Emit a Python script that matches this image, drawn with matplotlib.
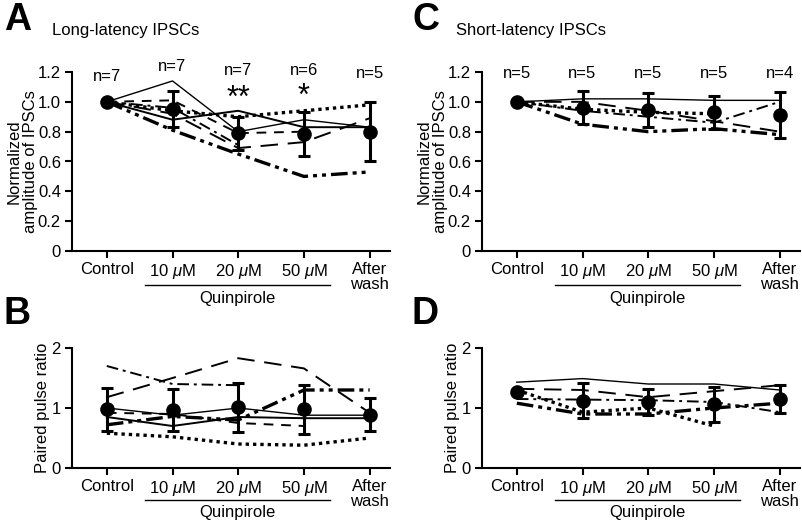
import numpy as np
import matplotlib
matplotlib.use("Agg")
import matplotlib.pyplot as plt

plt.rcParams['font.family'] = ['Liberation Sans', 'DejaVu Sans']
plt.rcParams['mathtext.fontset'] = 'custom'
plt.rcParams['mathtext.it'] = 'Liberation Sans:italic'
plt.rcParams['mathtext.rm'] = 'Liberation Sans'

nan = np.nan
conditions = ['Control', r'10 $\mu$M', r'20 $\mu$M', r'50 $\mu$M', 'After\nwash']

# Panel A: long-latency IPSC amplitude (individual cells)
A_solid1 = [1.0, 1.14, 0.80, 0.88, 0.83]
A_solid2 = [1.0, 0.88, 0.94, 0.83, 0.83]
A_dotted = [1.0, 0.94, 0.90, 0.94, 0.98]
A_dash = [1.0, 1.01, 0.79, 0.80, nan]
A_longdash = [1.0, 0.92, 0.69, 0.73, 0.89]
A_dashdot = [1.0, 0.96, 0.71, nan, nan]
A_dashdotdot = [1.0, 0.81, 0.65, 0.50, 0.53]
A_mean = [1.0, 0.95, 0.79, 0.785, 0.80]
A_err = [0.0, 0.12, 0.11, 0.145, 0.20]
A_n = ['n=7', 'n=7', 'n=7', 'n=6', 'n=5']
A_n_y = [1.17, 1.24, 1.21, 1.21, 1.19]
A_sig = ['', '', '**', '*', '']

# Panel C: short-latency IPSC amplitude
C_solid = [1.0, 1.02, 1.02, 1.01, 1.01]
C_longdash = [1.0, 1.0, 0.94, 0.87, 0.80]
C_dotted = [1.0, 0.95, 0.93, 0.92, nan]
C_dashdot = [1.0, 0.94, 0.90, 0.86, 1.0]
C_dashdotdot = [1.0, 0.85, 0.80, 0.82, 0.78]
C_mean = [1.0, 0.96, 0.945, 0.93, 0.91]
C_err = [0.0, 0.11, 0.115, 0.11, 0.155]
C_n = ['n=5', 'n=5', 'n=5', 'n=5', 'n=4']
C_n_y = [1.19, 1.19, 1.19, 1.19, 1.19]

# Panel B: paired pulse ratio (long-latency)
B_solid1 = [1.0, 0.88, 1.0, 0.88, 0.88]
B_solid2 = [0.85, 0.70, 0.85, 0.83, 0.83]
B_dotted = [0.58, 0.52, 0.40, 0.38, 0.50]
B_dash = [0.92, 0.90, 0.75, 0.70, nan]
B_longdash = [1.18, 1.50, 1.83, 1.66, 0.92]
B_dashdot = [1.70, 1.40, 1.38, nan, nan]
B_dashdotdot = [0.72, 0.86, 0.80, 1.30, 1.30]
B_mean = [0.98, 0.96, 1.01, 0.98, 0.89]
B_err = [0.36, 0.35, 0.41, 0.41, 0.28]

# Panel D: paired pulse ratio (short-latency)
D_solid = [1.43, 1.49, 1.40, 1.40, 1.30]
D_longdash = [1.32, 1.30, 1.18, 1.28, 1.38]
D_dotted = [1.30, 0.93, 1.0, 0.70, nan]
D_dashdot = [1.15, 1.14, 1.13, 1.10, 0.93]
D_dashdotdot = [1.08, 0.90, 0.90, 1.0, 1.08]
D_mean = [1.26, 1.12, 1.10, 1.06, 1.15]
D_err = [0.0, 0.29, 0.22, 0.29, 0.23]

styles = {
    'solid1': dict(ls='-', lw=1.0),
    'solid2': dict(ls='-', lw=1.4),
    'dotted': dict(ls=(0, (1, 1.2)), lw=2.4),
    'dash': dict(ls=(0, (5, 4)), lw=1.4),
    'longdash': dict(ls=(0, (9, 5)), lw=1.4),
    'dashdot': dict(ls=(0, (6, 2.5, 1.5, 2.5)), lw=1.4),
    'dashdotdot': dict(ls=(0, (5, 1.5, 1.2, 1.5, 1.2, 1.5)), lw=2.4),
}

x = np.arange(5)

fig = plt.figure(figsize=(8.02, 5.23), dpi=100)
W, H = 802, 523

def make_ax(l, r, top, bot):
    return fig.add_axes([l / W, 1 - bot / H, (r - l) / W, (bot - top) / H])

axA = make_ax(72, 390, 72, 251)
axC = make_ax(482, 800, 72, 251)
axB = make_ax(72, 390, 348, 468)
axD = make_ax(482, 800, 348, 468)

def style_ax(ax, ylim, yticks, yticklabels):
    ax.set_xlim(-0.53, 4.31)
    ax.set_ylim(*ylim)
    for s in ['top', 'right']:
        ax.spines[s].set_visible(False)
    for s in ['left', 'bottom']:
        ax.spines[s].set_linewidth(1.5)
    ax.set_xticks(x)
    ax.set_xticklabels(conditions, fontsize=12, linespacing=1.0)
    ax.set_yticks(yticks)
    ax.set_yticklabels(yticklabels, fontsize=12)
    ax.tick_params(axis='both', length=5, width=1.5, pad=3)

def draw_lines(ax, series):
    for key, vals in series:
        ax.plot(x, vals, color='black', clip_on=False, **styles[key])

def draw_mean(ax, mean, err):
    ax.errorbar(x, mean, yerr=err, fmt='o', color='black', ms=9.5,
                elinewidth=2.2, capsize=4, capthick=2.2, zorder=5, clip_on=False)

def quinpirole(ax, yline, ytext):
    tr = ax.get_xaxis_transform()
    ax.plot([0.58, 3.40], [yline, yline], color='black', lw=1.0,
            transform=tr, clip_on=False)
    ax.text(1.99, ytext, 'Quinpirole', transform=tr, ha='center', va='center',
            fontsize=12)

# Panel A
style_ax(axA, (0, 1.2), [0, 0.2, 0.4, 0.6, 0.8, 1.0, 1.2],
         ['0', '0.2', '0.4', '0.6', '0.8', '1.0', '1.2'])
draw_lines(axA, [('solid1', A_solid1), ('solid2', A_solid2), ('dotted', A_dotted),
                 ('dash', A_dash), ('longdash', A_longdash), ('dashdot', A_dashdot),
                 ('dashdotdot', A_dashdotdot)])
draw_mean(axA, A_mean, A_err)
axA.set_ylabel('Normalized\namplitude of IPSCs', fontsize=12, linespacing=1.1, labelpad=0)
for xi, t, yy in zip(x, A_n, A_n_y):
    axA.text(xi, yy, t, ha='center', va='center', fontsize=12, clip_on=False)
for xi, s, yy in zip(x, A_sig, [0, 0, 1.02, 1.035, 0]):
    if s:
        axA.text(xi, yy, s, ha='center', va='center', fontsize=22, clip_on=False)
quinpirole(axA, -0.19, -0.265)

# Panel C
style_ax(axC, (0, 1.2), [0, 0.2, 0.4, 0.6, 0.8, 1.0, 1.2],
         ['0', '0.2', '0.4', '0.6', '0.8', '1.0', '1.2'])
draw_lines(axC, [('solid1', C_solid), ('longdash', C_longdash), ('dotted', C_dotted),
                 ('dashdot', C_dashdot), ('dashdotdot', C_dashdotdot)])
draw_mean(axC, C_mean, C_err)
axC.set_ylabel('Normalized\namplitude of IPSCs', fontsize=12, linespacing=1.1, labelpad=0)
for xi, t, yy in zip(x, C_n, C_n_y):
    axC.text(xi, yy, t, ha='center', va='center', fontsize=12, clip_on=False)
quinpirole(axC, -0.19, -0.265)

# Panel B
style_ax(axB, (0, 2), [0, 1, 2], ['0', '1', '2'])
draw_lines(axB, [('solid1', B_solid1), ('solid2', B_solid2), ('dotted', B_dotted),
                 ('dash', B_dash), ('longdash', B_longdash), ('dashdot', B_dashdot),
                 ('dashdotdot', B_dashdotdot)])
draw_mean(axB, B_mean, B_err)
axB.set_ylabel('Paired pulse ratio', fontsize=12, labelpad=1)
quinpirole(axB, -0.267, -0.375)

# Panel D
style_ax(axD, (0, 2), [0, 1, 2], ['0', '1', '2'])
draw_lines(axD, [('solid1', D_solid), ('longdash', D_longdash), ('dotted', D_dotted),
                 ('dashdot', D_dashdot), ('dashdotdot', D_dashdotdot)])
draw_mean(axD, D_mean, D_err)
axD.set_ylabel('Paired pulse ratio', fontsize=12, labelpad=1)
quinpirole(axD, -0.267, -0.375)

# Panel letters and titles
fig.text(4 / W, 1 - 20 / H, 'A', fontsize=27, fontweight='bold', va='center', ha='left')
fig.text(52 / W, 1 - 30 / H, 'Long-latency IPSCs', fontsize=12, va='center', ha='left')
fig.text(412 / W, 1 - 20 / H, 'C', fontsize=27, fontweight='bold', va='center', ha='left')
fig.text(456 / W, 1 - 30 / H, 'Short-latency IPSCs', fontsize=12, va='center', ha='left')
fig.text(4 / W, 1 - 314 / H, 'B', fontsize=27, fontweight='bold', va='center', ha='left')
fig.text(412 / W, 1 - 314 / H, 'D', fontsize=27, fontweight='bold', va='center', ha='left')

fig.savefig('out.png', dpi=100)
